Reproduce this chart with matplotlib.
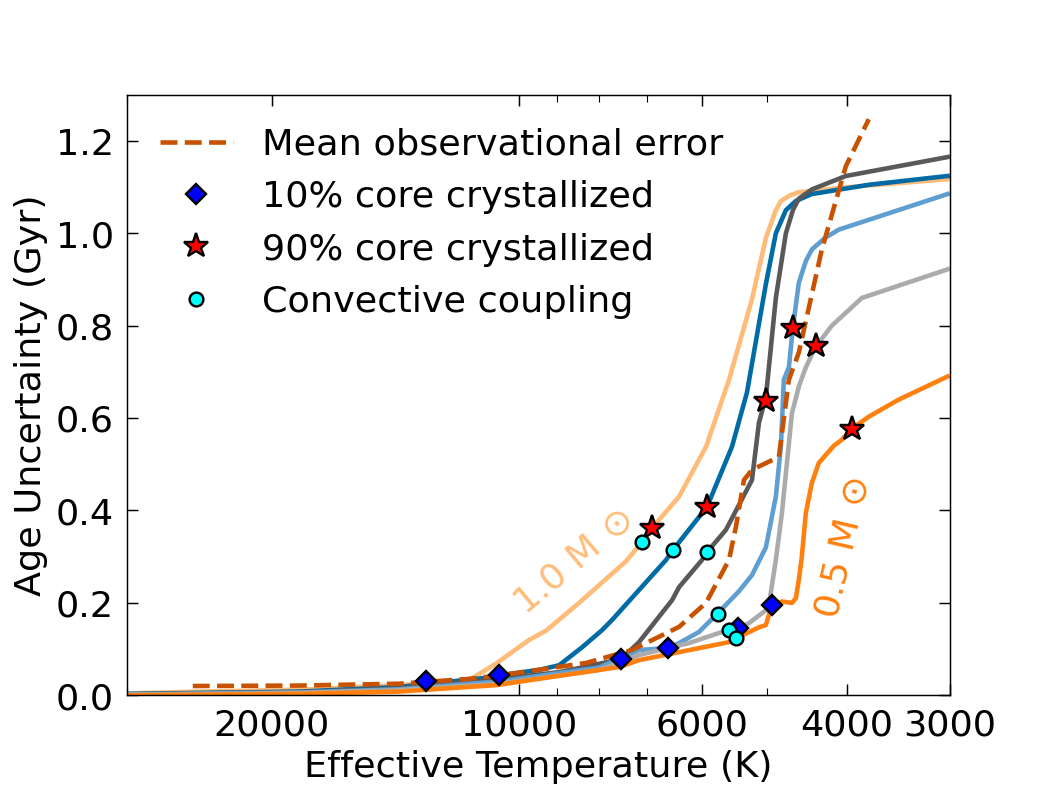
import matplotlib
matplotlib.use('Agg')
import matplotlib.pyplot as plt
from matplotlib.ticker import NullFormatter, FixedLocator, FixedFormatter

plt.rcParams['font.family'] = ['DejaVu Sans']
plt.rcParams['font.size'] = 20

# age uncertainty curves, one per white dwarf mass (Teff in K, Gyr)
t_10 = [30000, 24450, 18490, 13990, 11500, 10660, 9725, 9273, 8457, 7417, 7092, 6896, 6394, 5929, 5560, 5214, 5015, 4877, 4808, 4690, 4573, 3976, 3016]
a_10 = [0.004, 0.008, 0.012, 0.022, 0.033, 0.069, 0.12, 0.14, 0.2, 0.29, 0.332, 0.362, 0.43, 0.538, 0.683, 0.857, 0.99, 1.05, 1.07, 1.082, 1.089, 1.10, 1.117]

t_09 = [30000, 18490, 13990, 10660, 10570, 9456, 8943, 8385, 7931, 7712, 6630, 6501, 5912, 5514, 5288, 5015, 4877, 4742, 4611, 4409, 3760, 3016]
a_09 = [0.003, 0.008, 0.018, 0.040, 0.043, 0.055, 0.065, 0.104, 0.141, 0.163, 0.293, 0.315, 0.408, 0.538, 0.655, 0.89, 1.0, 1.05, 1.07, 1.085, 1.105, 1.124]

t_08 = [30000, 18490, 13990, 10570, 8943, 7521, 7152, 6519, 6394, 5995, 5912, 5608, 5214, 5113, 5015, 4877, 4742, 4650, 4573, 4409, 4010, 3016]
a_08 = [0.002, 0.007, 0.015, 0.035, 0.05, 0.078, 0.115, 0.206, 0.234, 0.293, 0.31, 0.358, 0.466, 0.59, 0.645, 0.86, 1.0, 1.05, 1.075, 1.095, 1.124, 1.165]

t_07 = [30000, 18490, 13990, 10570, 7998, 7152, 6593, 6394, 6047, 5734, 5408, 5214, 5015, 4877, 4808, 4769, 4702, 4650, 4573, 4484, 4409, 4250, 4089, 3016]
a_07 = [0.002, 0.006, 0.013, 0.03, 0.06, 0.098, 0.102, 0.113, 0.137, 0.178, 0.225, 0.26, 0.32, 0.43, 0.54, 0.683, 0.71, 0.796, 0.893, 0.94, 0.965, 0.99, 1.008, 1.085]

t_06 = [30000, 18490, 13990, 10570, 7998, 7152, 6218, 5670, 5560, 5422, 5259, 5015, 4973, 4877, 4795, 4663, 4570, 4484, 4360, 4170, 3834, 3016]
a_06 = [0.001, 0.005, 0.011, 0.025, 0.055, 0.087, 0.113, 0.137, 0.141, 0.145, 0.156, 0.184, 0.195, 0.293, 0.394, 0.61, 0.67, 0.71, 0.755, 0.8, 0.86, 0.922]

t_05 = [30000, 18490, 13990, 10660, 7563, 7152, 5560, 5453, 5113, 5015, 4932, 4795, 4663, 4611, 4573, 4535, 4484, 4409, 4324, 4147, 4055, 3943, 3760, 3458, 3016]
a_05 = [0.0, 0.003, 0.008, 0.022, 0.061, 0.076, 0.115, 0.123, 0.147, 0.152, 0.195, 0.203, 0.2, 0.21, 0.25, 0.3, 0.395, 0.46, 0.503, 0.54, 0.553, 0.577, 0.603, 0.64, 0.69]

# mean observational error
t_obs = [24930, 18490, 13990, 11600, 10570, 8292, 7294, 6394, 5929, 5560, 5453, 5332, 5214, 4836, 4702, 4573, 4288, 4010, 3760]
a_obs = [0.02, 0.021, 0.025, 0.035, 0.043, 0.07, 0.098, 0.148, 0.2, 0.293, 0.365, 0.466, 0.488, 0.516, 0.683, 0.742, 0.965, 1.145, 1.247]

# markers
t_cr10 = [12970, 10570, 7521, 6593, 5422, 4932]
a_cr10 = [0.030, 0.043, 0.078, 0.102, 0.145, 0.195]
t_cr90 = [6896, 5912, 5015, 4650, 4360, 3943]
a_cr90 = [0.362, 0.408, 0.638, 0.796, 0.755, 0.577]
t_cc = [7092, 6501, 5912, 5734, 5560, 5453]
a_cc = [0.332, 0.315, 0.310, 0.176, 0.141, 0.124]

fig, ax = plt.subplots(figsize=(8, 6))
plt.subplots_adjust(left=0.12, right=0.9, bottom=0.121, top=0.88)

lw = 2.5
ax.plot(t_10, a_10, color='#FFBC79', lw=lw)
ax.plot(t_09, a_09, color='#006BA4', lw=lw)
ax.plot(t_08, a_08, color='#595959', lw=lw)
ax.plot(t_07, a_07, color='#5F9ED1', lw=lw)
ax.plot(t_06, a_06, color='#ABABAB', lw=lw)
ax.plot(t_05, a_05, color='#FF800E', lw=lw)
ax.plot(t_obs, a_obs, color='#C85200', lw=lw, ls='--', label='Mean observational error')

ax.plot(t_cr10, a_cr10, 'D', color='blue', mec='black', mew=1.3, ms=7.5, label='10% core crystallized')
ax.plot(t_cr90, a_cr90, '*', color='red', mec='black', mew=1.3, ms=14, label='90% core crystallized')
ax.plot(t_cc, a_cc, 'o', color='cyan', mec='black', mew=1.3, ms=7.5, label='Convective coupling')

ax.text(8575, 0.288, r'1.0 M$\,\odot$', color='#FFBC79', rotation=40, ha='center', va='center')
ax.text(4033, 0.319, r'0.5 M$\,\odot$', color='#FF800E', rotation=77, ha='center', va='center')

ax.set_xscale('log')
ax.set_xlim(30000, 3000)
ax.set_ylim(0, 1.3)
ax.xaxis.set_major_locator(FixedLocator([20000, 10000, 6000, 4000, 3000]))
ax.xaxis.set_major_formatter(FixedFormatter(['20000', '10000', '6000', '4000', '3000']))
ax.xaxis.set_minor_formatter(NullFormatter())
ax.tick_params(which='both', direction='in', top=True, right=True)
ax.tick_params(which='major', length=6, pad=7)
ax.tick_params(which='minor', length=4)

ax.set_xlabel('Effective Temperature (K)')
ax.set_ylabel('Age Uncertainty (Gyr)')
ax.legend(loc='upper left', frameon=False)

fig.savefig('out.png', dpi=131.875)
